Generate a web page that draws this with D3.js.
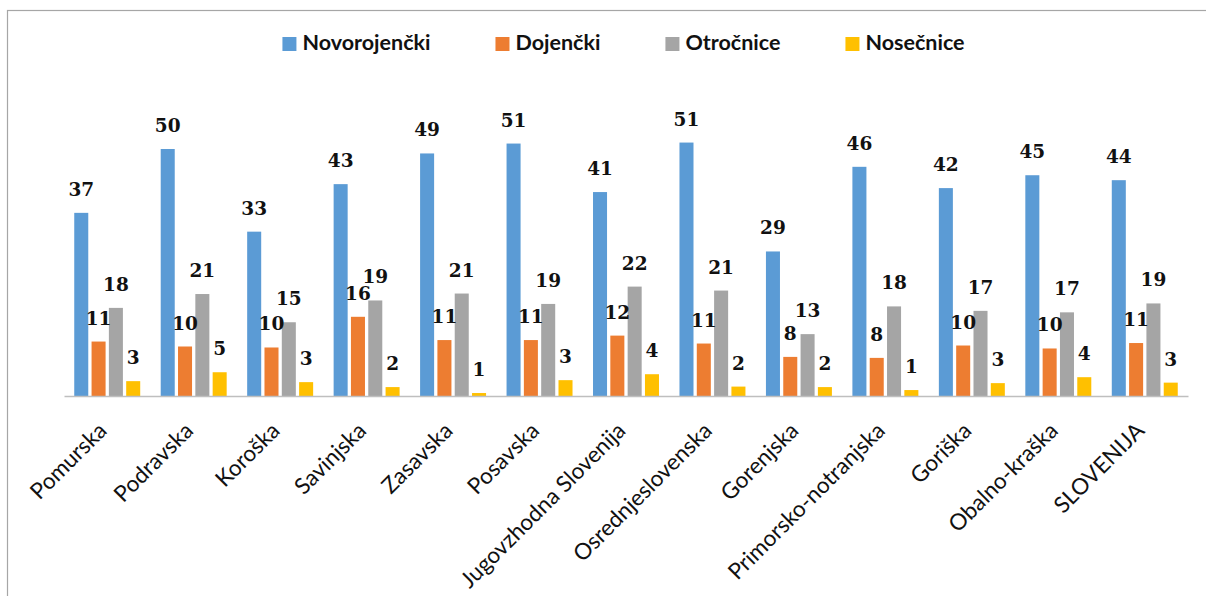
<!DOCTYPE html>
<html>
<head>
<meta charset="utf-8">
<script src="https://cdn.jsdelivr.net/npm/d3@7"></script>
<style>
  body { margin: 0; background: #fff; }
  svg { display: block; }
</style>
</head>
<body>
<script>
var categories = ["Pomurska", "Podravska", "Koroška", "Savinjska", "Zasavska", "Posavska",
    "Jugovzhodna Slovenija", "Osrednjeslovenska", "Gorenjska", "Primorsko-notranjska",
    "Goriška", "Obalno-kraška", "SLOVENIJA"];
var seriesNames = ["Novorojenčki", "Dojenčki", "Otročnice", "Nosečnice"];
var novorojencki = [37.0, 49.9, 33.2, 42.8, 49.0, 51.0, 41.2, 51.2, 29.2, 46.3, 42.0, 44.6, 43.6];
var dojencki = [11.0, 10.0, 9.8, 16.0, 11.3, 11.3, 12.2, 10.6, 7.9, 7.7, 10.2, 9.6, 10.7];
var otrocnice = [17.8, 20.6, 14.9, 19.3, 20.7, 18.6, 22.1, 21.3, 12.5, 18.1, 17.2, 16.9, 18.7];
var nosecnice = [3.0, 4.8, 2.8, 1.8, 0.6, 3.2, 4.4, 1.9, 1.8, 1.2, 2.6, 3.8, 2.7];
var colors = ["#5b9bd5", "#ed7d31", "#a5a5a5", "#ffc000"];

var width = 1206;
var height = 596;
var allSeries = [novorojencki, dojencki, otrocnice, nosecnice];

var svg = d3.select("body").append("svg")
    .attr("width", width)
    .attr("height", height);

// chart frame (right and bottom edges fall outside the picture)
svg.append("rect")
    .attr("x", 7.5)
    .attr("y", 10.5)
    .attr("width", 1220)
    .attr("height", 620)
    .attr("fill", "none")
    .attr("stroke", "#a6a6a6")
    .attr("stroke-width", 1.2);

var x0 = d3.scaleBand()
    .domain(categories)
    .range([64, 1188])
    .paddingInner(0.237)
    .paddingOuter(0.1185);

var x1 = d3.scaleBand()
    .domain(seriesNames)
    .range([0, x0.bandwidth()])
    .paddingInner(0.19);

var y = d3.scaleLinear()
    .domain([0, 60])
    .range([396, 99]);

var rows = categories.map(function(c, i) {
    return {
        name: c,
        values: seriesNames.map(function(s, j) {
            return { series: s, index: j, value: allSeries[j][i] };
        })
    };
});

var groups = svg.selectAll("g.group")
    .data(rows)
    .enter()
    .append("g")
    .attr("class", "group")
    .attr("transform", function(d) { return "translate(" + x0(d.name) + ",0)"; });

groups.selectAll("rect")
    .data(function(d) { return d.values; })
    .enter()
    .append("rect")
    .attr("x", function(d) { return x1(d.series); })
    .attr("y", function(d) { return y(d.value); })
    .attr("width", x1.bandwidth())
    .attr("height", function(d) { return y(0) - y(d.value); })
    .attr("fill", function(d) { return colors[d.index]; });

groups.selectAll("text")
    .data(function(d) { return d.values; })
    .enter()
    .append("text")
    .text(function(d) { return d3.format(".0f")(d.value); })
    .attr("x", function(d) { return x1(d.series) + x1.bandwidth() / 2; })
    .attr("y", function(d) { return y(d.value) - 17; })
    .attr("text-anchor", "middle")
    .attr("font-family", "'DejaVu Serif', serif")
    .attr("font-weight", "bold")
    .attr("font-size", "18.5px")
    .attr("fill", "#111");

// x axis
var xAxis = svg.append("g")
    .attr("transform", "translate(0,396)")
    .call(d3.axisBottom(x0).tickSize(0).tickFormat(""));
xAxis.select(".domain")
    .attr("stroke", "#bfbfbf")
    .attr("stroke-width", 1.5);

svg.selectAll("text.cat")
    .data(categories)
    .enter()
    .append("text")
    .attr("class", "cat")
    .text(function(d) { return d; })
    .attr("text-anchor", "end")
    .attr("transform", function(d) {
        return "translate(" + (x0(d) + x0.bandwidth() / 2 + 1) + ",432) rotate(-45)";
    })
    .attr("font-family", "Lato, sans-serif")
    .attr("font-size", "22.5px")
    .attr("fill", "#111");

// legend
var legend = svg.append("g");
var items = legend.selectAll("g")
    .data(seriesNames)
    .enter()
    .append("g");
items.append("rect")
    .attr("width", 14)
    .attr("height", 14)
    .attr("y", 37)
    .attr("fill", function(d, i) { return colors[i]; });
items.append("text")
    .text(function(d) { return d; })
    .attr("x", 20)
    .attr("y", 50)
    .attr("font-family", "Lato, sans-serif")
    .attr("font-weight", "bold")
    .attr("font-size", "21.5px")
    .attr("fill", "#111");

var pos = 0;
items.each(function() {
    var w = this.getBBox().width;
    d3.select(this).attr("data-x", pos);
    pos += w + 65;
});
var total = pos - 65;
var start = 623.5 - total / 2;
items.attr("transform", function() {
    return "translate(" + (start + (+this.getAttribute("data-x"))) + ",0)";
});
</script>
</body>
</html>
